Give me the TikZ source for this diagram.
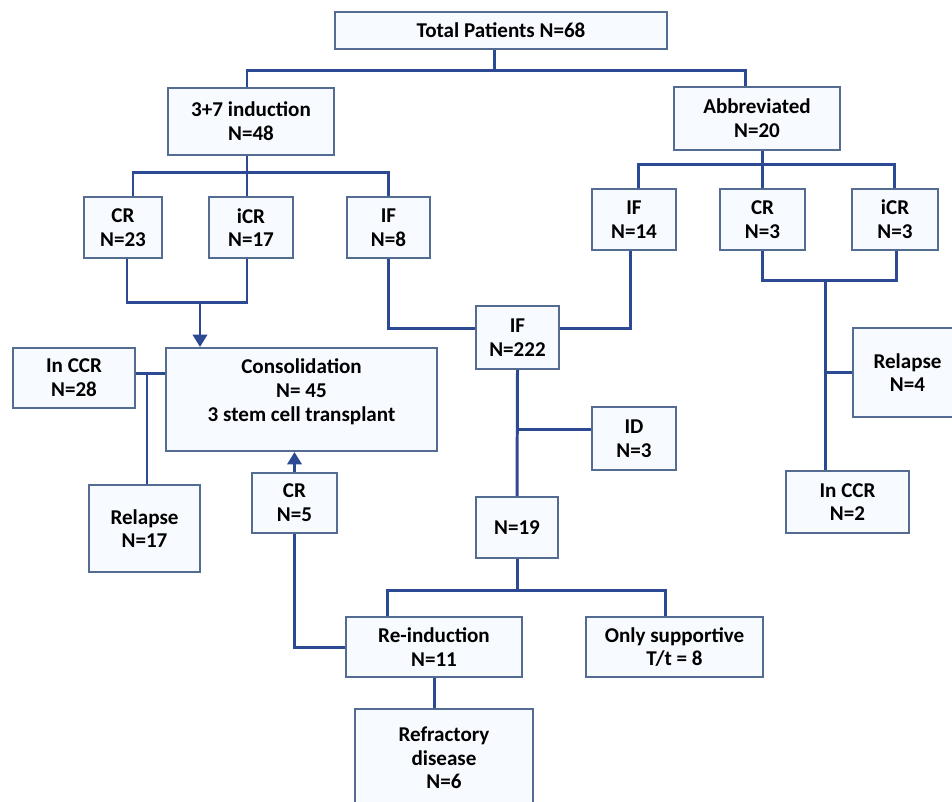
\documentclass[tikz,border=0pt]{standalone}
\usepackage{fontspec}
\setmainfont{Carlito}
\usepackage{tikz}
\usetikzlibrary{positioning,calc,arrows.meta}
\definecolor{linkblue}{RGB}{44,74,148}
\definecolor{boxedge}{RGB}{84,108,146}
\definecolor{boxfill}{RGB}{247,250,254}

\begin{document}
\begin{tikzpicture}[x=0.02cm, y=-0.02cm,
  box/.style={draw=boxedge, fill=boxfill, line width=1.1pt, align=center, inner sep=2pt,
    font=\fontsize{12}{13.5}\selectfont\bfseries},
  boxsize/.style 2 args={minimum width=#1*0.02cm, minimum height=#2*0.02cm},
  link/.style={draw=linkblue, line width=1.7pt},
  flow/.style={link, -{Triangle[length=7pt,width=8pt]}}]
\useasboundingbox (0,0) rectangle (952,801);
\clip (0,0) rectangle (952,801);

% Top level
\node[box, boxsize={332}{37}] (total) at (501,30.5) {Total Patients N=68};
\node[box, boxsize={166}{67}] (ind) at (251,121.5) {3+7 induction\\N=48};
\node[box, boxsize={166}{63}] (abb) at (757,118.5) {Abbreviated\\N=20};

% Response after 3+7
\node[box, boxsize={78}{61}] (cr1) at (123,227.5) {CR\\N=23};
\node[box, boxsize={84}{61}] (icr1) at (251,227.5) {iCR\\N=17};
\node[box, boxsize={83}{61}] (if1) at (388.5,227.5) {IF\\N=8};

% Response after abbreviated
\node[box, boxsize={84}{61}] (if2) at (634,219.5) {IF\\N=14};
\node[box, boxsize={85}{61}] (cr2) at (762.5,219.5) {CR\\N=3};
\node[box, boxsize={86}{61}] (icr2) at (895,219.5) {iCR\\N=3};

% Consolidation and outcome
\node[box, boxsize={271}{103}] (cons) at (301.5,399.5) {Consolidation\\N= 45\\3 stem cell transplant\\[-3pt]};
\node[box, boxsize={122}{60}] (ccr1) at (74,378) {In CCR\\N=28};
\node[box, boxsize={111}{87}] (rel1) at (144.5,528.5) {Relapse\\N=17};
\node[box, boxsize={85}{60}] (cr3) at (294.5,503) {CR\\N=5};

% Induction failure
\node[box, boxsize={83}{63}] (if3) at (517.5,337.5) {IF\\N=222};
\node[box, boxsize={84}{63}] (id) at (634,438.5) {ID\\N=3};
\node[box, boxsize={82}{61}] (n19) at (517,527.5) {N=19};
\node[box, boxsize={176}{60}] (reind) at (434,647) {Re-induction\\N=11};
\node[box, boxsize={177}{60}] (supp) at (674.5,647) {Only supportive\\T/t = 8};
\node[box, boxsize={178}{98}] (refr) at (444,758) {Refractory\\disease\\N=6};

% Outcome of abbreviated CR/iCR
\node[box, boxsize={109}{89}] (rel2) at (907.5,372.5) {Relapse\\N=4};
\node[box, boxsize={123}{62}] (ccr2) at (847.5,502) {In CCR\\N=2};

% Total to both arms
\draw[link] ($(total.south)+(-7,0)$) -- ++(0,21) coordinate (topbus);
\draw[link] (topbus) -| ($(ind.north)+(-4,0)$);
\draw[link] (topbus) -| ($(abb.north)+(-12,0)$);

% 3+7 branches
\draw[link] ($(ind.south)+(-4,0)$) -- ++(0,17) coordinate (indbus);
\draw[link] (indbus) -| ($(cr1.north)+(10,0)$);
\draw[link] (indbus) -| ($(icr1.north)+(-4,0)$);
\draw[link] (indbus) -| (if1.north);

% Abbreviated branches
\draw[link] ($(abb.south)+(5,0)$) -- ++(0,14) coordinate (abbbus);
\draw[link] (abbbus) -| ($(if2.north)+(4,0)$);
\draw[link] (abbbus) -| (cr2.north);
\draw[link] (abbbus) -| ($(icr2.north)+(-1,0)$);

% CR + iCR into consolidation
\draw[link] ($(cr1.south)+(4,0)$) -- ++(0,44) -| ($(icr1.south)+(-4,0)$);
\coordinate (crjoin) at (200,302);
\draw[flow] (crjoin) -- (crjoin |- cons.north);

% In CCR and relapse beside consolidation
\coordinate (ccrout) at ($(ccr1.east)+(0,-5)$);
\draw[link] (ccrout) -- (ccrout -| cons.west);
\draw[link] ($(rel1.north)+(2.5,0)$) -- ++(0,-112);

% IF N=8 and IF N=14 together
\draw[link] (if1.south) |- ($(if3.west)+(0,-9)$);
\draw[link] ($(if2.south)+(-4,0)$) |- ($(if3.east)+(0,-9)$);

% Down from IF N=222
\draw[link] (if3.south) -- (n19.north);
\coordinate (idin) at ($(id.west)+(0,-9)$);
\draw[link] (idin) -- (idin -| if3.south);

% N=19 split
\draw[link] (n19.south) -- ++(0,32) coordinate (n19bus);
\draw[link] (n19bus) -| ($(reind.north)+(-47,0)$);
\draw[link] (n19bus) -| ($(supp.north)+(-9,0)$);
\draw[link] (reind.south) -- (reind.south |- refr.north);

% CR after re-induction back to consolidation
\draw[link] (cr3.south) |- (reind.west);
\draw[flow] (cr3.north) -- (cr3.north |- cons.south);

% Abbreviated CR/iCR outcome
\draw[link] (cr2.south) -- ++(0,30) -| ($(icr2.south)+(1,0)$);
\coordinate (abbjoin) at (825,280);
\draw[link] (abbjoin) -- (abbjoin |- ccr2.north);
\draw[link] (rel2.west) -- (rel2.west -| abbjoin);

\end{tikzpicture}
\end{document}
